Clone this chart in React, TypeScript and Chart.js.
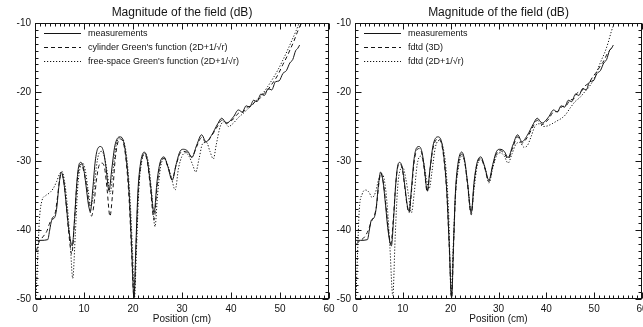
import React, { useEffect, useRef } from "react";
import { Chart, registerables } from "chart.js";
Chart.register(...registerables);

const chartTitle = "Magnitude of the field (dB)";
const xAxisTitle = "Position (cm)";
const xRange = [0, 60];
const yRange = [-50, -10];
const tickStep = 10;
const leftLabels = ["measurements", "cylinder Green's function (2D+1/√r)", "free-space Green's function (2D+1/√r)"];
const rightLabels = ["measurements", "fdtd (3D)", "fdtd (2D+1/√r)"];

const measurements = [
  [0, -41.5], [1.2, -41.5], [2.6, -41.4], [3.0, -40.0], [3.4, -38.6], [4.0, -38.2], [4.4, -37.0], [4.9, -33.5],
  [5.35, -31.6], [5.9, -33.2], [6.4, -36.5], [6.9, -40.0], [7.6, -42.3], [8.1, -38.0], [8.5, -33.5], [8.9, -30.8],
  [9.35, -30.2], [9.9, -31.0], [10.4, -33.5], [10.9, -36.3], [11.3, -37.3], [11.8, -34.0], [12.3, -30.0], [12.8, -28.2],
  [13.4, -27.9], [14.0, -28.7], [14.5, -31.0], [15.1, -34.3], [15.7, -31.0], [16.3, -27.8], [17.3, -26.5], [18.0, -27.0],
  [18.6, -29.5], [19.2, -34.5], [19.7, -42.0], [20.2, -49.8], [20.6, -42.0], [21.0, -34.5], [21.5, -30.5], [22.3, -28.7],
  [22.9, -29.8], [23.5, -33.0], [24.3, -37.5], [24.9, -33.0], [25.5, -30.3], [26.3, -29.4], [27.1, -30.8], [28.0, -32.8],
  [28.8, -30.5], [29.6, -28.6], [30.3, -28.3], [31.2, -28.6], [32.0, -29.5], [33.0, -27.7], [34.0, -26.2], [34.9, -27.2],
  [36.0, -26.3], [37.3, -24.6], [38.1, -23.8], [39.1, -24.5], [40.5, -23.6], [41.5, -22.6], [42.3, -22.9], [43.1, -22.0],
  [43.8, -22.2], [44.6, -21.2], [45.3, -21.4], [46.1, -20.3], [46.8, -20.5], [47.6, -19.5], [48.3, -19.7], [49.1, -18.5],
  [49.8, -18.4], [50.6, -17.3], [51.3, -16.9], [52.0, -15.8], [52.6, -15.3], [53.2, -14.0], [53.6, -13.7], [54.0, -13.2],
];

const cylinderGreen = [
  [0.3, -43.0], [0.8, -41.8], [1.6, -41.0], [2.4, -40.2], [3.0, -39.0], [3.6, -38.2], [4.1, -37.6], [4.6, -35.2],
  [5.0, -32.8], [5.4, -31.8], [5.9, -33.0], [6.4, -36.5], [6.9, -40.5], [7.5, -43.5], [8.0, -39.5], [8.5, -33.8],
  [8.9, -31.2], [9.4, -30.5], [9.9, -31.3], [10.4, -33.0], [10.9, -35.5], [11.5, -38.0], [12.0, -36.5], [12.5, -33.0],
  [13.0, -30.8], [13.6, -30.3], [14.2, -31.0], [14.7, -34.0], [15.3, -38.0], [15.8, -35.0], [16.4, -29.5], [17.3, -26.8],
  [18.0, -27.3], [18.6, -30.0], [19.2, -35.5], [19.7, -43.0], [20.2, -49.8], [20.6, -43.0], [21.0, -35.5], [21.5, -31.0],
  [22.3, -29.0], [22.9, -30.0], [23.5, -33.5], [24.3, -38.5], [24.9, -33.8], [25.5, -30.6], [26.3, -29.6], [27.1, -30.8],
  [28.0, -32.6], [28.8, -30.6], [29.6, -28.9], [30.3, -28.6], [31.2, -28.8], [32.0, -29.4], [33.0, -27.9], [34.0, -26.6],
  [34.9, -27.3], [36.0, -26.4], [37.3, -24.9], [38.1, -24.1], [39.1, -24.5], [40.5, -23.9], [41.5, -23.1], [42.5, -22.9],
  [43.3, -22.2], [44.2, -22.0], [45.0, -21.3], [45.8, -21.0], [46.6, -20.3], [47.4, -19.8], [48.2, -19.0], [49.0, -18.2],
  [49.8, -17.2], [50.6, -16.0], [51.4, -14.9], [52.1, -13.8], [52.8, -12.7], [53.5, -11.4], [54.1, -10.4], [54.5, -10.0],
];

const freeSpaceGreen = [
  [0.2, -50.0], [0.5, -45.0], [0.9, -38.5], [1.4, -35.8], [2.2, -35.0], [3.0, -34.6], [3.7, -34.0], [4.4, -33.0],
  [5.0, -31.9], [5.5, -31.5], [6.0, -32.8], [6.6, -36.5], [7.2, -42.0], [7.7, -47.0], [8.2, -41.0], [8.7, -34.0],
  [9.2, -31.0], [9.7, -30.3], [10.3, -31.5], [10.8, -34.0], [11.4, -36.5], [11.9, -35.0], [12.5, -31.0], [13.0, -29.0],
  [13.6, -28.6], [14.2, -29.5], [14.8, -32.0], [15.3, -34.8], [15.9, -31.5], [16.6, -27.6], [17.5, -26.6], [18.2, -27.3],
  [18.8, -30.0], [19.4, -35.5], [19.9, -43.0], [20.3, -49.8], [20.7, -43.0], [21.2, -34.0], [21.8, -30.0], [22.5, -28.8],
  [23.2, -30.5], [23.8, -34.5], [24.5, -39.5], [25.0, -35.0], [25.6, -31.0], [26.4, -29.6], [27.2, -30.8], [27.9, -32.6],
  [28.6, -34.2], [29.3, -31.0], [30.0, -29.3], [30.7, -28.8], [31.5, -29.4], [32.2, -30.6], [32.8, -31.6], [33.5, -29.6],
  [34.2, -27.5], [35.0, -27.3], [35.7, -28.6], [36.4, -29.7], [37.0, -27.6], [37.8, -25.0], [38.6, -24.3], [39.5, -25.0],
  [40.5, -24.5], [41.5, -23.7], [42.5, -23.1], [43.5, -22.4], [44.5, -21.7], [45.5, -21.0], [46.5, -20.2], [47.5, -19.2],
  [48.5, -18.1], [49.5, -16.9], [50.5, -15.5], [51.5, -14.0], [52.5, -12.4], [53.3, -11.1], [53.9, -10.0],
];

const fdtd3D = [
  [0.3, -42.0], [1.0, -41.6], [2.0, -41.0], [2.8, -40.0], [3.4, -38.8], [4.0, -38.0], [4.5, -36.5], [5.0, -33.2],
  [5.4, -31.8], [5.9, -33.0], [6.4, -36.0], [6.9, -39.5], [7.5, -42.0], [8.0, -38.5], [8.5, -33.5], [8.9, -31.0],
  [9.4, -30.4], [9.9, -31.2], [10.4, -33.8], [10.9, -36.5], [11.3, -37.5], [11.8, -34.5], [12.3, -30.5], [12.8, -28.6],
  [13.4, -28.2], [14.0, -29.0], [14.5, -31.3], [15.1, -34.5], [15.7, -31.2], [16.3, -28.2], [17.3, -26.8], [18.0, -27.3],
  [18.6, -29.8], [19.2, -34.8], [19.7, -42.5], [20.2, -49.8], [20.6, -42.5], [21.0, -35.0], [21.5, -31.0], [22.3, -29.0],
  [22.9, -30.0], [23.5, -33.2], [24.3, -37.8], [24.9, -33.3], [25.5, -30.5], [26.3, -29.6], [27.1, -31.0], [28.0, -33.0],
  [28.8, -30.8], [29.6, -28.9], [30.3, -28.5], [31.2, -28.9], [32.0, -29.7], [33.0, -28.0], [34.0, -26.5], [34.9, -27.4],
  [36.0, -26.6], [37.3, -24.9], [38.1, -24.1], [39.1, -24.7], [40.5, -23.9], [41.5, -22.9], [42.4, -22.8], [43.3, -22.1],
  [44.1, -22.0], [44.9, -21.2], [45.7, -21.0], [46.5, -20.1], [47.3, -19.9], [48.1, -19.1], [48.9, -18.7], [49.7, -17.8],
  [50.5, -17.1], [51.3, -16.2], [52.0, -15.5], [52.7, -14.5], [53.3, -13.9], [53.8, -13.5],
];

const fdtd2D = [
  [0.2, -50.0], [0.5, -44.0], [0.9, -37.0], [1.5, -34.8], [2.2, -34.2], [2.9, -34.5], [3.6, -35.3], [4.3, -34.5],
  [5.0, -32.5], [5.7, -31.9], [6.3, -33.5], [6.8, -37.0], [7.3, -42.5], [7.9, -49.5], [8.4, -41.0], [8.9, -34.0],
  [9.5, -31.2], [10.0, -30.9], [10.6, -32.5], [11.2, -35.0], [11.8, -37.5], [12.4, -34.5], [13.0, -30.5], [13.7, -29.3],
  [14.3, -30.0], [14.9, -32.5], [15.5, -34.0], [16.1, -31.5], [16.8, -28.0], [17.7, -27.0], [18.4, -28.0], [19.0, -31.0],
  [19.6, -38.0], [20.1, -49.5], [20.5, -43.0], [21.0, -35.0], [21.6, -31.0], [22.4, -29.2], [23.0, -30.5], [23.6, -33.5],
  [24.3, -37.5], [24.9, -34.0], [25.6, -30.5], [26.4, -29.8], [27.2, -31.0], [28.0, -33.2], [28.8, -31.0], [29.6, -29.2],
  [30.4, -28.8], [31.2, -29.3], [32.0, -30.3], [32.8, -29.0], [33.7, -27.5], [34.5, -27.3], [35.3, -28.0], [36.0, -27.8],
  [36.8, -26.5], [37.6, -25.0], [38.5, -24.6], [39.4, -25.0], [40.3, -24.9], [41.2, -24.6], [42.2, -24.2], [43.2, -23.8],
  [44.0, -23.3], [45.0, -22.3], [46.0, -21.4], [47.0, -20.8], [48.0, -20.0], [49.0, -19.2], [50.0, -18.0], [50.8, -16.6],
  [51.5, -15.4], [52.2, -14.3], [52.9, -12.9], [53.6, -11.2], [54.2, -10.0],
];

const INK = "#141414";
const SOLID: number[] = [];
const DASHED = [4, 3];
const DOTTED = [1.2, 1.8];

function makeDataset(label: string, pts: number[][], dash: number[]) {
  return {
    label,
    data: pts.map(([x, y]) => ({ x, y })),
    borderColor: INK,
    borderWidth: 1,
    borderDash: dash,
    pointRadius: 0,
    fill: false,
    cubicInterpolationMode: "monotone" as const,
  };
}

const framePlugin = {
  id: "idlFrame",
  afterDraw(chart: any) {
    const { ctx, chartArea: a, scales } = chart;
    const xs = scales.x;
    const ys = scales.y;
    ctx.save();
    ctx.strokeStyle = INK;
    ctx.lineWidth = 1;
    ctx.setLineDash([]);
    const L = Math.round(a.left) + 0.5;
    const R = Math.round(a.right) - 0.5;
    const T = Math.round(a.top) + 0.5;
    const B = Math.round(a.bottom) - 0.5;
    ctx.strokeRect(L, T, R - L, B - T);
    ctx.beginPath();
    for (let v = xs.min; v <= xs.max; v += 1) {
      const px = Math.round(xs.getPixelForValue(v)) + 0.5;
      const len = v % 10 === 0 ? 6 : 3;
      ctx.moveTo(px, B);
      ctx.lineTo(px, B - len);
      ctx.moveTo(px, T);
      ctx.lineTo(px, T + len);
    }
    for (let v = ys.min; v <= ys.max; v += 1) {
      const py = Math.round(ys.getPixelForValue(v)) + 0.5;
      const len = v % 10 === 0 ? 6 : 3;
      ctx.moveTo(L, py);
      ctx.lineTo(L + len, py);
      ctx.moveTo(R, py);
      ctx.lineTo(R - len, py);
    }
    ctx.stroke();

    // title
    ctx.fillStyle = INK;
    ctx.font = "12px 'Liberation Sans', sans-serif";
    ctx.textAlign = "center";
    ctx.textBaseline = "middle";
    ctx.fillText(chart.options.plugins.idlFrame.title, (a.left + a.right) / 2, 13);

    // legend
    ctx.font = "9px 'Liberation Sans', sans-serif";
    ctx.textAlign = "left";
    chart.data.datasets.forEach((ds: any, i: number) => {
      const y = Math.round(a.top + 10 + i * 14) + 0.5;
      ctx.beginPath();
      ctx.setLineDash(ds.borderDash || []);
      ctx.moveTo(a.left + 9, y);
      ctx.lineTo(a.left + 46, y);
      ctx.stroke();
      ctx.setLineDash([]);
      ctx.fillText(ds.label, a.left + 53, y);
    });
    ctx.restore();
  },
};

function Panel(props: { left: number; width: number; padRight: number; labels: string[]; series: number[][][] }) {
  const ref = useRef<HTMLCanvasElement>(null);
  useEffect(() => {
    if (!ref.current) return;
    const dashes = [SOLID, DASHED, DOTTED];
    const chart = new Chart(ref.current, {
      type: "line",
      data: {
        datasets: props.series.map((s, i) => makeDataset(props.labels[i], s, dashes[i])) as any,
      },
      options: {
        responsive: false,
        animation: false,
        layout: { padding: { top: 23, left: 0, right: props.padRight, bottom: 0 } },
        plugins: {
          legend: { display: false },
          title: { display: false },
          tooltip: { enabled: false },
          idlFrame: { title: chartTitle },
        } as any,
        scales: {
          x: {
            type: "linear",
            min: xRange[0],
            max: xRange[1],
            grid: { display: false, drawTicks: false },
            border: { display: false },
            ticks: {
              stepSize: tickStep,
              autoSkip: false,
              maxRotation: 0,
              padding: 4,
              color: INK,
              font: { family: "'Liberation Sans', sans-serif", size: 10 },
            },
            title: {
              display: true,
              text: xAxisTitle,
              color: INK,
              font: { family: "'Liberation Sans', sans-serif", size: 10 },
              padding: { top: 0, bottom: 2 },
            },
            afterFit: (s: any) => {
              s.height = 28;
              s.paddingLeft = 0;
              s.paddingRight = 0;
            },
          },
          y: {
            type: "linear",
            min: yRange[0],
            max: yRange[1],
            grid: { display: false, drawTicks: false },
            border: { display: false },
            ticks: {
              stepSize: tickStep,
              padding: 4,
              color: INK,
              font: { family: "'Liberation Sans', sans-serif", size: 10 },
            },
            afterFit: (s: any) => {
              s.width = 35;
              s.paddingTop = 0;
              s.paddingBottom = 0;
            },
          },
        },
      },
      plugins: [framePlugin],
    });
    return () => chart.destroy();
  }, []);
  return (
    <div style={{ position: "absolute", left: props.left, top: 0, width: props.width, height: 327 }}>
      <canvas ref={ref} width={props.width} height={327} style={{ display: "block", width: props.width, height: 327 }} />
    </div>
  );
}

export default function App() {
  return (
    <div style={{ position: "absolute", left: 0, top: 0, width: 643, height: 327, background: "#fff", overflow: "hidden" }}>
      <Panel left={0} width={335} padRight={6} labels={leftLabels} series={[measurements, cylinderGreen, freeSpaceGreen]} />
      <Panel left={320} width={323} padRight={1} labels={rightLabels} series={[measurements, fdtd3D, fdtd2D]} />
    </div>
  );
}
